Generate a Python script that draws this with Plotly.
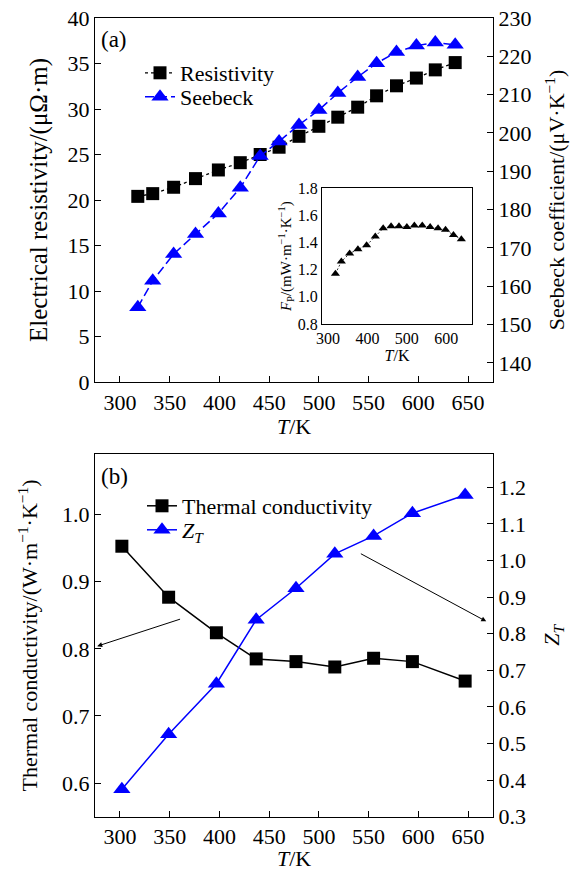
import plotly.graph_objects as go

# ---- data (a) ----
T_a = [318, 333, 354, 376, 399, 421, 441, 460, 480, 500, 519, 539, 558, 578, 598, 617, 637]
resistivity = [20.4, 20.7, 21.4, 22.35, 23.3, 24.1, 25.0, 25.8, 27.0, 28.1, 29.1, 30.2, 31.45, 32.55, 33.4, 34.3, 35.1]
seebeck = [154.5, 161.4, 168.4, 173.6, 179.0, 185.7, 194.0, 197.8, 202.1, 206.0, 210.4, 214.6, 218.2, 221.1, 222.8, 223.6, 223.0]
# ---- inset ----
T_in = [319, 334, 355, 376, 398, 420, 440, 460, 480, 500, 519, 539, 559, 579, 598, 618, 638]
power_factor = [1.17, 1.26, 1.32, 1.35, 1.38, 1.445, 1.505, 1.52, 1.52, 1.515, 1.525, 1.525, 1.515, 1.505, 1.495, 1.455, 1.425]
# ---- data (b) ----
T_b = [302, 349, 397, 437, 477, 516, 555, 594, 647]
kappa = [0.953, 0.877, 0.824, 0.785, 0.781, 0.773, 0.786, 0.781, 0.752]
zt = [0.375, 0.525, 0.663, 0.838, 0.924, 1.018, 1.067, 1.129, 1.179]

FONT = "Liberation Serif, Times New Roman, serif"
BLUE = "#0000ff"
W, H = 580, 871

def px_x(p):
    return p / W

def px_y(p):
    return 1 - p / H

fig = go.Figure()

fig.add_trace(go.Scatter(x=T_a, y=resistivity, name="Resistivity", mode="lines+markers",
                         line=dict(color="black", width=1.3, dash="3px,3px"),
                         marker=dict(symbol="square", size=13, color="black"),
                         xaxis="x", yaxis="y", legend="legend"))
fig.add_trace(go.Scatter(x=T_a, y=seebeck, name="Seebeck", mode="lines+markers",
                         line=dict(color=BLUE, width=1.5, dash="9px,4px"),
                         marker=dict(symbol="triangle-up", size=15, color=BLUE),
                         xaxis="x", yaxis="y2", legend="legend2"))
fig.add_trace(go.Scatter(x=T_in, y=power_factor, mode="lines+markers", showlegend=False,
                         line=dict(color="black", width=0.8, dash="2px,2px"),
                         marker=dict(symbol="triangle-up", size=8, color="black"),
                         xaxis="x3", yaxis="y5"))
fig.add_trace(go.Scatter(x=T_b, y=kappa, name="Thermal conductivity", mode="lines+markers",
                         line=dict(color="black", width=1.5),
                         marker=dict(symbol="square", size=13, color="black"),
                         xaxis="x2", yaxis="y3", legend="legend3"))
fig.add_trace(go.Scatter(x=T_b, y=zt, name="<i>Z</i><sub><i>T</i></sub>", mode="lines+markers",
                         line=dict(color=BLUE, width=1.5),
                         marker=dict(symbol="triangle-up", size=15, color=BLUE),
                         xaxis="x2", yaxis="y4", legend="legend4"))

tickfont = dict(family=FONT, size=22, color="black")
titlefont = dict(family=FONT, size=22, color="black")
common = dict(showline=True, linecolor="black", linewidth=1.2, ticks="inside", ticklen=6,
              tickcolor="black", showgrid=False, zeroline=False, tickfont=tickfont,
              automargin=False, ticklabeloverflow="allow")

xdom = [px_x(95), px_x(493)]
top_dom = [px_y(382), px_y(18)]
bot_dom = [px_y(816.6), px_y(454.3)]

def leg(xp, yp):
    return dict(x=px_x(xp), y=px_y(yp), xanchor="left", yanchor="middle", bgcolor="rgba(0,0,0,0)",
                font=dict(family=FONT, size=22, color="black"), itemwidth=30, tracegroupgap=0)

fig.update_layout(
    width=W, height=H, margin=dict(l=0, r=0, t=0, b=0),
    paper_bgcolor="white", plot_bgcolor="rgba(0,0,0,0)",
    font=dict(family=FONT, color="black"),
    xaxis=dict(domain=xdom, anchor="y", range=[275, 675], dtick=50, mirror=True,
               title=dict(text="<i>T</i>/K", font=titlefont, standoff=4), **common),
    yaxis=dict(domain=top_dom, anchor="x", range=[0, 40], dtick=5, mirror=True,
               title=dict(text="Electrical resistivity/(μΩ·m)", font=dict(family=FONT, size=25, color="black"),
                          standoff=12), **common),
    yaxis2=dict(overlaying="y", anchor="x", side="right", range=[135, 230],
                tickvals=[140, 150, 160, 170, 180, 190, 200, 210, 220, 230],
                title=dict(text="Seebeck coefficient/(μV·K<sup>−1</sup>)", font=titlefont, standoff=18), **common),
    xaxis2=dict(domain=xdom, anchor="y3", range=[275, 675], dtick=50, mirror=True,
                title=dict(text="<i>T</i>/K", font=titlefont, standoff=4), **common),
    yaxis3=dict(domain=bot_dom, anchor="x2", range=[0.55, 1.09], tickvals=[0.6, 0.7, 0.8, 0.9, 1.0],
                tickformat=".1f", mirror=True,
                title=dict(text="Thermal conductivity/(W·m<sup>−1</sup>·K<sup>−1</sup>)", font=titlefont, standoff=18),
                **common),
    yaxis4=dict(overlaying="y3", anchor="x2", side="right", range=[0.3, 1.29],
                tickvals=[0.3, 0.4, 0.5, 0.6, 0.7, 0.8, 0.9, 1.0, 1.1, 1.2], tickformat=".1f",
                title=dict(text="<i>Z</i><sub><i>T</i></sub>", font=titlefont, standoff=18), **common),
    xaxis3=dict(domain=[px_x(322), px_x(472)], anchor="y5", range=[285, 665],
                tickvals=[300, 400, 500, 600], showline=True, mirror=True, linecolor="black",
                linewidth=1, ticks="", showgrid=False, zeroline=False, automargin=False,
                ticklabeloverflow="allow",
                tickfont=dict(family=FONT, size=16, color="black"),
                title=dict(text="<i>T</i>/K", font=dict(family=FONT, size=16, color="black"), standoff=0)),
    yaxis5=dict(domain=[px_y(324), px_y(188.3)], anchor="x3", range=[0.8, 1.8], dtick=0.2,
                tickformat=".1f", showline=True, mirror=True, linecolor="black", linewidth=1,
                ticks="", showgrid=False, zeroline=False, automargin=False, ticklabeloverflow="allow",
                tickfont=dict(family=FONT, size=16, color="black"),
                title=dict(text="<i>F</i><sub>P</sub>/(mW·m<sup>−1</sup>·K<sup>−1</sup>)",
                           font=dict(family=FONT, size=15, color="black"), standoff=2)),
    legend=leg(140, 73),
    legend2=leg(140, 97),
    legend3=leg(142, 506),
    legend4=leg(142, 530),
    showlegend=True,
)

fig.add_annotation(text="(a)", xref="paper", yref="paper", x=px_x(99), y=px_y(25),
                   xanchor="left", yanchor="top", showarrow=False, font=dict(family=FONT, size=23))
fig.add_annotation(text="(b)", xref="paper", yref="paper", x=px_x(99), y=px_y(462),
                   xanchor="left", yanchor="top", showarrow=False, font=dict(family=FONT, size=23))

# arrows pointing to the corresponding axes
fig.add_annotation(x=277.2, y=0.804, xref="x2", yref="y3", ax=362, ay=0.845, axref="x2", ayref="y3",
                   showarrow=True, arrowhead=2, arrowsize=1, arrowwidth=1, arrowcolor="black", text="")
fig.add_annotation(x=668.2, y=0.841, xref="x2", yref="y3", ax=540.7, ay=0.943, axref="x2", ayref="y3",
                   showarrow=True, arrowhead=2, arrowsize=1, arrowwidth=1, arrowcolor="black", text="")

# remove the browser's default page margin so the figure fills the window exactly
fig.write_html("out.html", config={"displayModeBar": False},
               post_script="document.body.style.margin='0';document.body.style.overflow='hidden';")
